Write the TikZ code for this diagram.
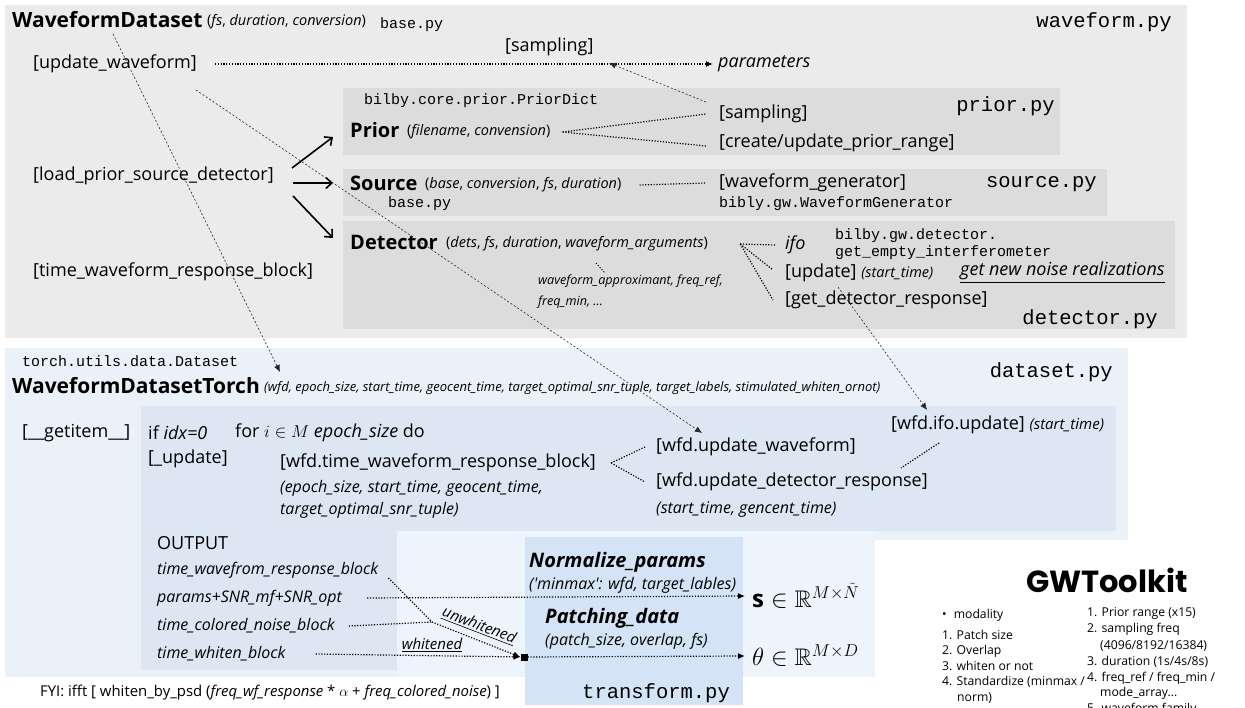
\documentclass[tikz,border=0pt]{standalone}
\usepackage{amsmath,amssymb}
\usepackage{fontspec}
\setmainfont{Open Sans}
\setmonofont{Liberation Mono}
\newfontfamily\popfont{Poppins}
\usetikzlibrary{arrows.meta}
\newcommand{\fsz}[1]{\fontsize{#1}{#1}\selectfont}
\definecolor{topgray}{HTML}{EBEBEB}
\definecolor{boxgray}{HTML}{DCDCDC}
\definecolor{dsout}{HTML}{EAF1F9}
\definecolor{dsin}{HTML}{DCE7F3}
\definecolor{lowlt}{HTML}{EEF4FB}
\definecolor{tfbox}{HTML}{D4E3F5}
\begin{document}
\begin{tikzpicture}[x=1pt,y=-1pt,
  t/.style={inner sep=0pt, anchor=west},
  lbl/.style={t, font=\fsz{18}},
  hdr/.style={t, font=\bfseries\fsz{21}},
  hdrs/.style={t, font=\bfseries\fsz{20}},
  args/.style={t, font=\fsz{14.5}},
  argsxs/.style={t, font=\itshape\fsz{13}},
  monos/.style={t, font=\ttfamily\fsz{15}},
  monol/.style={t, font=\ttfamily\fsz{20.5}},
  itm/.style={t, font=\itshape\fsz{16}},
  itl/.style={t, font=\itshape\fsz{16}},
  itsm/.style={t, font=\itshape\fsz{12.6}},
  bi/.style={t, font=\bfseries\itshape\fsz{20}},
  sm/.style={t, font=\fsz{12.2}},
  mathl/.style={t, font=\fsz{24}},
  dotl/.style={dash pattern=on 1.2pt off 1.6pt, line width=1.2pt},
  dota/.style={dotl, -{Latex[length=7pt,width=6pt]}},
  fine/.style={dash pattern=on 2pt off 2pt, line width=0.6pt, black!85},
  finea/.style={fine, -{Latex[length=7pt,width=6pt]}},
  solida/.style={line width=1.6pt, -{Straight Barb[length=6pt,width=11pt]}}
]
\path[use as bounding box] (0,0) rectangle (1245,708);
% ---------- backgrounds
\fill[topgray] (5,5) rectangle (1187,338);
\fill[boxgray] (343,88) rectangle (1060,155);
\fill[boxgray] (343,169) rectangle (1107,216);
\fill[boxgray] (343,221) rectangle (1175,329);
\fill[dsout] (5,348) rectangle (1128,540);
\fill[dsout] (5,540) rectangle (397,677);
\fill[lowlt] (397,531) rectangle (875,677);
\fill[dsin] (141,406) rectangle (1116,531);
\fill[dsin] (141,531) rectangle (397,670);
\fill[tfbox] (525,537) rectangle (743,705);
% ---------- waveform.py
\node[hdr] (wd) at (12,20) {WaveformDataset};
\node[args] (wdargs) at (207,22) {(\textit{fs}, \textit{duration}, \textit{conversion})};
\node[monos] (wdbase) at (380,25) {base.py};
\node[monol, anchor=east] (wfpy) at (1172,22) {waveform.py};
\node[lbl] (upw) at (33,64) {[update\_waveform]};
\node[lbl] (samp) at (505,47) {[sampling]};
\node[lbl] (params) at (718,64) {\textit{parameters}};
\node[lbl] (lpsd) at (33,176) {[load\_prior\_source\_detector]};
\node[lbl] (twrb) at (33,272) {[time\_waveform\_response\_block]};
% prior
\node[monos] (pdict) at (364,101) {bilby.core.prior.PriorDict};
\node[hdrs] (prior) at (350,130) {Prior};
\node[args] (priorargs) at (407,132) {(\textit{filename}, \textit{convension})};
\node[monol, anchor=east] (priorpy) at (1055,106) {prior.py};
\node[lbl] (psamp) at (719,114) {[sampling]};
\node[lbl] (pcreate) at (719,143) {[create/update\_prior\_range]};
% source
\node[hdrs] (source) at (350,183) {Source};
\node[args] (srcargs) at (425,185) {(\textit{base}, \textit{conversion}, \textit{fs}, \textit{duration})};
\node[monos] (srcbase) at (388,204) {base.py};
\node[lbl] (wg) at (719,183) {[waveform\_generator]};
\node[monos] (bwg) at (719,204) {bibly.gw.WaveformGenerator};
\node[monol, anchor=east] (srcpy) at (1097,184) {source.py};
% detector
\node[hdrs] (det) at (350,242) {Detector};
\node[args] (detargs) at (446,244) {(\textit{dets}, \textit{fs}, \textit{duration}, \textit{waveform\_arguments})};
\node[itsm] (wfa1) at (538,281) {waveform\_approximant, freq\_ref,};
\node[itsm] (wfa2) at (538,302) {freq\_min, ...};
\node[lbl] (ifo) at (785,245) {\textit{ifo}};
\node[monos] (bgd1) at (835,236) {bilby.gw.detector.};
\node[monos] (bgd2) at (835,253) {get\_empty\_interferometer};
\node[lbl] (upd) at (785,273) {[update] {\itshape\fsz{14.5}(start\_time)}};
\node[lbl] (noise) at (960,273) {\itshape\underline{get new noise realizations}};
\node[lbl] (gdr) at (785,300) {[get\_detector\_response]};
\node[monol, anchor=east] (detpy) at (1158,319) {detector.py};
% ---------- dataset.py
\node[monos] (tud) at (22,361) {torch.utils.data.Dataset};
\node[hdr] (wdt) at (12,386) {WaveformDatasetTorch};
\node[argsxs] (wdtargs) at (264,388) {(wfd, epoch\_size, start\_time, geocent\_time, target\_optimal\_snr\_tuple, target\_labels, stimulated\_whiten\_ornot)};
\node[monol, anchor=east] (dspy) at (1113,372) {dataset.py};
\node[lbl] (getitem) at (22,433) {[\_\_getitem\_\_]};
\node[lbl] (ifidx) at (148,433) {if \textit{idx=0}};
\node[lbl] (forl) at (235,433) {for $i \in M$ \textit{epoch\_size} do};
\node[lbl] (upd2) at (148,459) {[\_update]};
\node[lbl] (wtw) at (280,463) {[wfd.time\_waveform\_response\_block]};
\node[itm] (wtwa1) at (280,488) {(epoch\_size, start\_time, geocent\_time,};
\node[itm] (wtwa2) at (280,510) {target\_optimal\_snr\_tuple)};
\node[lbl] (wuw) at (656,447) {[wfd.update\_waveform]};
\node[lbl] (wudr) at (656,482) {[wfd.update\_detector\_response]};
\node[itm] (wudra) at (656,510) {(start\_time, gencent\_time)};
\node[lbl] (wifo) at (891,425) {[wfd.ifo.update] {\itshape\fsz{15}(start\_time)}};
% ---------- output / transform
\node[lbl] (out) at (157,543) {OUTPUT};
\node[itl] (o1) at (157,570) {time\_wavefrom\_response\_block};
\node[itl] (o2) at (157,598) {params+SNR\_mf+SNR\_opt};
\node[itl] (o3) at (157,626) {time\_colored\_noise\_block};
\node[itl] (o4) at (157,654) {time\_whiten\_block};
\node[bi] (norm) at (529,562) {Normalize\_params};
\node[itm] (norma) at (529,585) {(\textquotesingle minmax\textquotesingle: wfd, target\_lables)};
\node[bi] (patch) at (545,618) {Patching\_data};
\node[itm] (patcha) at (545,641) {(patch\_size, overlap, fs)};
\node[monol] (tfpy) at (582,693) {transform.py};
\node[mathl] (s) at (752,596) {$\mathbf{s}\in\mathbb{R}^{M\times\tilde{N}}$};
\node[mathl] (theta) at (752,656) {$\theta\in\mathbb{R}^{M\times D}$};
\node[fill=black, minimum size=7pt, inner sep=0pt] (sq) at (524,657) {};
\node[t, font=\itshape\fsz{15}, anchor=center, rotate=-21] (unw) at (479,626) {\underline{unwhitened}};
\node[t, font=\itshape\fsz{15}, anchor=center] (wh) at (432,645) {\underline{whitened}};
% ---------- GWToolkit
\node[t, font=\popfont\bfseries\fsz{30.5}] (gwt) at (1026,580) {GWToolkit};
\node[sm] (b0) at (942,615) {\textbullet\hspace{7pt}modality};
\node[sm] (l1) at (942,635) {1. Patch size};
\node[sm] (l2) at (942,651) {2. Overlap};
\node[sm] (l3) at (942,666) {3. whiten or not};
\node[sm] (l4) at (942,682) {4. Standardize (minmax /};
\node[sm] (l4b) at (957,698) {norm)};
\node[sm] (r1) at (1087,613) {1. Prior range (x15)};
\node[sm] (r2) at (1087,629) {2. sampling freq};
\node[sm] (r2b) at (1100,646) {(4096/8192/16384)};
\node[sm] (r3) at (1087,662) {3. duration (1s/4s/8s)};
\node[sm] (r4) at (1087,678) {4. freq\_ref / freq\_min /};
\node[sm] (r4b) at (1100,693) {mode\_array...};
\node[sm] (r5) at (1087,709) {5. waveform family};
\node[t, font=\fsz{14.9}] (fyi) at (40,693) {FYI: ifft [ whiten\_by\_psd (\textit{freq\_wf\_response} * $\alpha$ + \textit{freq\_colored\_noise}) ]};
% ---------- connectors
\coordinate (sampjoin) at (609,63);
\draw[dota] ([xshift=18pt]upw.east) -- ([xshift=-5pt]params.west);
\draw[finea] ([shift={(-13pt,12pt)}]psamp.west) -- (sampjoin);
\draw[dotl] ([xshift=12pt]priorargs.east) -- ([xshift=-13pt]psamp.west);
\draw[dotl] ([xshift=12pt]priorargs.east) -- ([shift={(-13pt,-3pt)}]pcreate.west);
\draw[dotl] ([xshift=18pt]srcargs.east) -- ([xshift=-13pt]wg.west);
\coordinate (dj) at ([xshift=32pt]detargs.east);
\draw[dotl] (dj) -- ([xshift=-10pt]ifo.west);
\draw[dotl] (dj) -- ([shift={(-12pt,3pt)}]upd.west);
\draw[dotl] (dj) -- ([shift={(-12pt,0pt)}]gdr.west);
\coordinate (tk1) at (596,263);
\coordinate (tk2) at (605,273);
\draw[dotl, line width=0.9pt] (tk1) -- (tk2);
\coordinate (lp1) at (292,168);
\coordinate (lp2) at (293,183);
\coordinate (lp3) at (293,196);
\coordinate (pb) at (333,137);
\coordinate (sb) at (333,183);
\coordinate (db) at (333,238);
\draw[solida] (lp1) -- (pb);
\draw[solida] (lp2) -- (sb);
\draw[solida] (lp3) -- (db);
% long links
\coordinate (wdD) at (113,34);
\draw[finea] (wdD) -- ([shift={(16pt,16pt)}]wdtargs.west);
\coordinate (upwT) at (196,90);
\draw[finea] (upwT) -- ([shift={(46pt,14pt)}]wuw.west);
\coordinate (updT) at (838,287);
\draw[finea] (updT) -- ([shift={(36pt,15pt)}]wifo.west);
% dataset links
\coordinate (tj) at ([xshift=15pt]wtw.east);
\draw[dotl] (tj) -- ([xshift=-11pt]wuw.west);
\draw[dotl] (tj) -- ([xshift=-11pt]wudr.west);
\draw[dotl] ([shift={(48pt,-18pt)}]wifo.west) -- ([shift={(245pt,14pt)}]wudr.west);
% output links
\draw[dota] ([xshift=25pt]o2.east) -- ([xshift=-7pt]s.west);
\draw[dota] ([xshift=30pt]o4.east) -- (sq.west);
\draw[dota] (sq.east) -- ([xshift=-7pt]theta.west);
\coordinate (uj) at (432,622);
\draw[dotl] ([shift={(10pt,-8pt)}]o1.east) -- (uj);
\draw[dotl] ([xshift=14pt]o3.east) -- (uj);
\draw[dota] (uj) -- (sq.west);
\end{tikzpicture}
\end{document}
